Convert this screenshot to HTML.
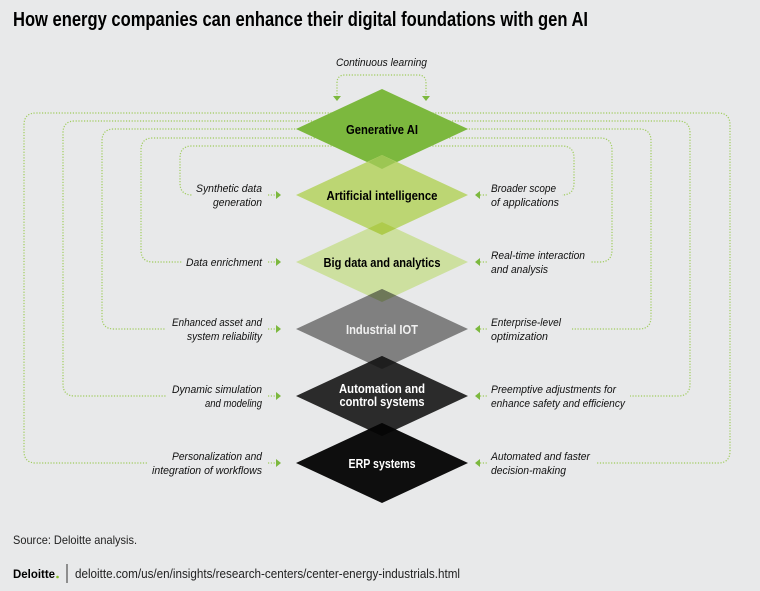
<!DOCTYPE html>
<html><head><meta charset="utf-8"><style>
html,body{margin:0;padding:0;background:#e8e9ea;}
svg{display:block;}
.t{font-family:"Liberation Sans Narrow","Liberation Sans",sans-serif;}
.lab{font-family:"Liberation Sans Narrow","Liberation Sans",sans-serif;font-style:italic;font-size:11px;fill:#111;}
.dn{font-family:"Liberation Sans Narrow","Liberation Sans",sans-serif;font-weight:bold;font-size:13px;text-anchor:middle;}
.ln{fill:none;stroke:#9fcc5c;stroke-width:1.2;stroke-dasharray:1.2 1.6;}
</style></head><body>
<svg width="760" height="591" viewBox="0 0 760 591">
<rect width="760" height="591" fill="#e8e9ea"/>
<text x="13" y="26" class="t" font-weight="bold" font-size="20" textLength="575" lengthAdjust="spacingAndGlyphs" fill="#000">How energy companies can enhance their digital foundations with gen AI</text>

<text x="336" y="66" class="lab" textLength="91" lengthAdjust="spacingAndGlyphs">Continuous learning</text>
<path class="ln" d="M337 97 V83 Q337 75 345 75 H418 Q426 75 426 83 V97"/>
<polygon points="333,96 341,96 337,101" fill="#7cb83e"/>
<polygon points="422,96 430,96 426,101" fill="#7cb83e"/>

<path class="ln" d="M382 113 H36 Q24 113 24 125 V451 Q24 463 36 463 H147"/>
<path class="ln" d="M382 121 H75 Q63 121 63 133 V384 Q63 396 75 396 H166"/>
<path class="ln" d="M382 129 H114 Q102 129 102 141 V317 Q102 329 114 329 H166"/>
<path class="ln" d="M382 138 H153 Q141 138 141 150 V250 Q141 262 153 262 H182"/>
<path class="ln" d="M382 146 H192 Q180 146 180 158 V183 Q180 195 192 195 H192"/>
<path class="ln" d="M382 113 H718 Q730 113 730 125 V451 Q730 463 718 463 H596"/>
<path class="ln" d="M382 121 H678 Q690 121 690 133 V384 Q690 396 678 396 H630"/>
<path class="ln" d="M382 129 H639 Q651 129 651 141 V317 Q651 329 639 329 H572"/>
<path class="ln" d="M382 138 H600 Q612 138 612 150 V250 Q612 262 600 262 H590"/>
<path class="ln" d="M382 146 H562 Q574 146 574 158 V183 Q574 195 562 195 H562"/>

<path class="ln" d="M268 195 H276 M268 262 H276 M268 329 H276 M268 396 H276 M268 463 H276"/>
<path class="ln" d="M480 195 H488 M480 262 H488 M480 329 H488 M480 396 H488 M480 463 H488"/>
<g fill="#7cb83e">
<polygon points="276,191 281,195 276,199"/><polygon points="276,258 281,262 276,266"/><polygon points="276,325 281,329 276,333"/><polygon points="276,392 281,396 276,400"/><polygon points="276,459 281,463 276,467"/>
<polygon points="480,191 475,195 480,199"/><polygon points="480,258 475,262 480,266"/><polygon points="480,325 475,329 480,333"/><polygon points="480,392 475,396 480,400"/><polygon points="480,459 475,463 480,467"/>
</g>

<polygon points="382,89 468,129 382,169 296,129" fill="#7cb83e"/>
<polygon points="382,155 468,195 382,235 296,195" fill="#bcd673"/>
<polygon points="382,155 396,162 382,169 368,162" fill="#9cc653"/>
<polygon points="382,222 468,262 382,302 296,262" fill="#cde09f"/>
<polygon points="382,222 396,228.5 382,235 368,228.5" fill="#aecb4c"/>
<polygon points="382,289 468,329 382,369 296,329" fill="#808080"/>
<polygon points="382,289 396,295.5 382,302 368,295.5" fill="#6e7858"/>
<polygon points="382,356 468,396 382,436 296,396" fill="#2b2b2b"/>
<polygon points="382,356 396,362.5 382,369 368,362.5" fill="#1e1e1e"/>
<polygon points="382,423 468,463 382,503 296,463" fill="#0e0e0e"/>
<polygon points="382,423 396,429.5 382,436 368,429.5" fill="#060606"/>

<text x="382" y="134" class="dn" fill="#000" textLength="72" lengthAdjust="spacingAndGlyphs">Generative AI</text>
<text x="382" y="200" class="dn" fill="#000" textLength="111" lengthAdjust="spacingAndGlyphs">Artificial intelligence</text>
<text x="382" y="267" class="dn" fill="#000" textLength="117" lengthAdjust="spacingAndGlyphs">Big data and analytics</text>
<text x="382" y="334" class="dn" fill="#f0f0f0" textLength="72" lengthAdjust="spacingAndGlyphs">Industrial IOT</text>
<text x="382" y="393" class="dn" fill="#fff" textLength="86" lengthAdjust="spacingAndGlyphs">Automation and</text>
<text x="382" y="406" class="dn" fill="#fff" textLength="85" lengthAdjust="spacingAndGlyphs">control systems</text>
<text x="382" y="468" class="dn" fill="#fff" textLength="67" lengthAdjust="spacingAndGlyphs">ERP systems</text>

<g class="lab" text-anchor="end">
<text x="262" y="192" textLength="66" lengthAdjust="spacingAndGlyphs">Synthetic data</text><text x="262" y="206" textLength="49" lengthAdjust="spacingAndGlyphs">generation</text>
<text x="262" y="266" textLength="76" lengthAdjust="spacingAndGlyphs">Data enrichment</text>
<text x="262" y="326" textLength="90" lengthAdjust="spacingAndGlyphs">Enhanced asset and</text><text x="262" y="340" textLength="75" lengthAdjust="spacingAndGlyphs">system reliability</text>
<text x="262" y="393" textLength="90" lengthAdjust="spacingAndGlyphs">Dynamic simulation</text><text x="262" y="407" textLength="57" lengthAdjust="spacingAndGlyphs">and modeling</text>
<text x="262" y="460" textLength="90" lengthAdjust="spacingAndGlyphs">Personalization and</text><text x="262" y="474" textLength="110" lengthAdjust="spacingAndGlyphs">integration of workflows</text>
</g>
<g class="lab">
<text x="491" y="192" textLength="65" lengthAdjust="spacingAndGlyphs">Broader scope</text><text x="491" y="206" textLength="68" lengthAdjust="spacingAndGlyphs">of applications</text>
<text x="491" y="259" textLength="94" lengthAdjust="spacingAndGlyphs">Real-time interaction</text><text x="491" y="273" textLength="57" lengthAdjust="spacingAndGlyphs">and analysis</text>
<text x="491" y="326" textLength="70" lengthAdjust="spacingAndGlyphs">Enterprise-level</text><text x="491" y="340" textLength="57" lengthAdjust="spacingAndGlyphs">optimization</text>
<text x="491" y="393" textLength="125" lengthAdjust="spacingAndGlyphs">Preemptive adjustments for</text><text x="491" y="407" textLength="134" lengthAdjust="spacingAndGlyphs">enhance safety and efficiency</text>
<text x="491" y="460" textLength="99" lengthAdjust="spacingAndGlyphs">Automated and faster</text><text x="491" y="474" textLength="75" lengthAdjust="spacingAndGlyphs">decision-making</text>
</g>

<text x="13" y="544" class="t" font-size="12" fill="#222" textLength="124" lengthAdjust="spacingAndGlyphs">Source: Deloitte analysis.</text>
<text x="13" y="578" font-family="Liberation Sans,sans-serif" font-weight="bold" font-size="11.5" fill="#000" textLength="42" lengthAdjust="spacingAndGlyphs">Deloitte</text>
<circle cx="57.5" cy="577" r="1.3" fill="#86bc25"/>
<line x1="67" y1="564" x2="67" y2="583" stroke="#333" stroke-width="1"/>
<text x="75" y="578" class="t" font-size="12.5" fill="#222" textLength="385" lengthAdjust="spacingAndGlyphs">deloitte.com/us/en/insights/research-centers/center-energy-industrials.html</text>
</svg>
</body></html>
